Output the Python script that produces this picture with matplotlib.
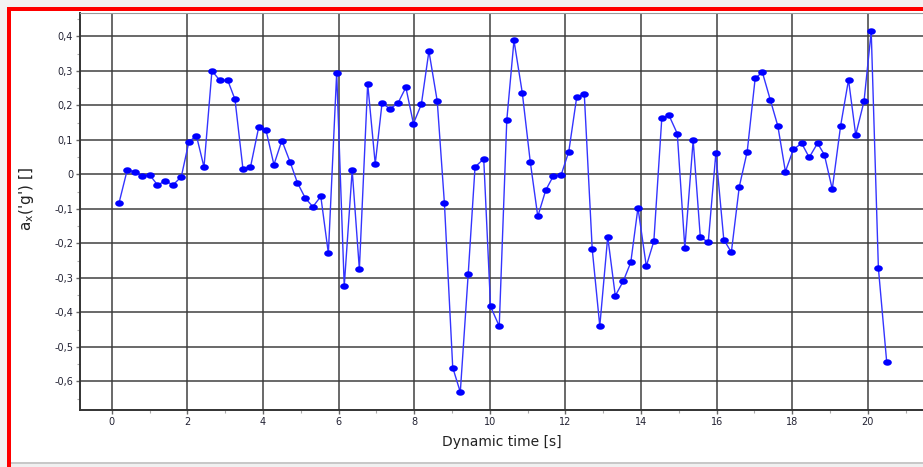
import matplotlib
matplotlib.use("Agg")
import matplotlib.pyplot as plt
import numpy as np
from matplotlib.patches import Rectangle
from matplotlib.path import Path
from matplotlib.ticker import MultipleLocator, FuncFormatter

# dynamic time [s]
t = [0.19, 0.41, 0.61, 0.80, 1.00, 1.21, 1.42, 1.62, 1.84, 2.04,
     2.24, 2.44, 2.65, 2.86, 3.07, 3.26, 3.47, 3.67, 3.89, 4.08,
     4.29, 4.50, 4.72, 4.91, 5.12, 5.32, 5.53, 5.73, 5.95, 6.15,
     6.36, 6.55, 6.77, 6.97, 7.15, 7.36, 7.57, 7.78, 7.98, 8.19,
     8.39, 8.61, 8.80, 9.02, 9.22, 9.43, 9.61, 9.84, 10.02, 10.25,
     10.45, 10.64, 10.86, 11.07, 11.27, 11.48, 11.68, 11.89, 12.09, 12.30,
     12.50, 12.71, 12.91, 13.12, 13.32, 13.53, 13.73, 13.92, 14.14, 14.34,
     14.55, 14.74, 14.96, 15.16, 15.38, 15.57, 15.78, 15.98, 16.19, 16.39,
     16.60, 16.81, 17.02, 17.21, 17.42, 17.62, 17.82, 18.03, 18.25, 18.45,
     18.67, 18.85, 19.06, 19.28, 19.49, 19.68, 19.90, 20.09, 20.28, 20.50]

# a_x ('g')
ax_g = [-0.084, 0.013, 0.007, -0.005, -0.001, -0.031, -0.019, -0.031, -0.007, 0.094,
        0.112, 0.021, 0.300, 0.272, 0.272, 0.217, 0.016, 0.021, 0.138, 0.128,
        0.028, 0.098, 0.035, -0.024, -0.069, -0.094, -0.064, -0.229, 0.294, -0.324,
        0.012, -0.275, 0.263, 0.030, 0.206, 0.190, 0.206, 0.252, 0.147, 0.203,
        0.357, 0.212, -0.084, -0.560, -0.631, -0.288, 0.021, 0.045, -0.383, -0.440,
        0.157, 0.388, 0.236, 0.037, -0.122, -0.046, -0.005, -0.001, 0.066, 0.224,
        0.232, -0.217, -0.440, -0.181, -0.352, -0.310, -0.255, -0.097, -0.266, -0.194,
        0.162, 0.171, 0.118, -0.214, 0.099, -0.183, -0.196, 0.061, -0.189, -0.226,
        -0.036, 0.066, 0.278, 0.296, 0.216, 0.140, 0.008, 0.072, 0.090, 0.049,
        0.090, 0.057, -0.043, 0.140, 0.274, 0.114, 0.212, 0.414, -0.272, -0.544]

W, H = 923, 467
fig = plt.figure(figsize=(W / 100, H / 100), dpi=100, facecolor="#f3f3f3")


def px_rect(x0, y0, x1, y1, color, z):
    # rectangle given in pixel coords (origin top-left)
    r = Rectangle((x0 / W, 1 - y1 / H), (x1 - x0) / W, (y1 - y0) / H,
                  transform=fig.transFigure, facecolor=color,
                  edgecolor="none", zorder=z)
    fig.add_artist(r)


# red frame and white panel
px_rect(7, 7, W, H, "#ff0000", -10)
px_rect(11, 11, W, 462, "white", -9)
px_rect(11, 462, W, 463.5, "#c8c8c8", -8)
px_rect(11, 463.5, W, H, "#f0f0f0", -8)

ax = fig.add_axes([80 / W, 1 - 410 / H, (W - 80) / W, (410 - 13) / H])
ax.set_facecolor("white")

# slightly flattened dot marker
ang = np.linspace(0, 2 * np.pi, 40)
ell = Path(np.column_stack([np.cos(ang), 0.75 * np.sin(ang)]), closed=True)

ax.plot(t, ax_g, color="#3434ff", lw=1.0, zorder=3)
ax.plot(t, ax_g, ls="none", marker=ell, ms=6.2, mew=0, color="#0000ff", zorder=4)

ax.set_xlim(-0.84, 21.46)
ax.set_ylim(-0.683, 0.4675)

ax.xaxis.set_major_locator(MultipleLocator(2))
ax.xaxis.set_minor_locator(MultipleLocator(1))
ax.yaxis.set_major_locator(MultipleLocator(0.1))
ax.yaxis.set_minor_locator(MultipleLocator(0.05))


def comma(v, pos):
    if abs(v) < 1e-9:
        return "0"
    return f"{v:.1f}".replace(".", ",")


ax.yaxis.set_major_formatter(FuncFormatter(comma))
ax.xaxis.set_major_formatter(FuncFormatter(lambda v, p: f"{v:.0f}"))

ax.grid(True, which="major", color="#3c3c3c", lw=1.2, alpha=0.9, zorder=1)
ax.set_axisbelow(True)

ax.tick_params(which="major", direction="out", length=3, width=1,
               color="#666666", labelsize=7, labelcolor="#222233", pad=2)
ax.tick_params(which="minor", direction="out", length=2.5, width=0.8,
               color="#aaaaaa")

for s in ["left", "bottom"]:
    ax.spines[s].set_color("#333333")
    ax.spines[s].set_linewidth(1.4)
ax.spines["top"].set_color("#999999")
ax.spines["top"].set_linewidth(0.8)
ax.spines["right"].set_visible(False)

ax.set_xlabel("Dynamic time [s]", fontsize=10, color="#222222", labelpad=6)
ax.set_ylabel(r"a$_\mathregular{x}$('g') []", fontsize=11, color="#222222")
ax.yaxis.set_label_coords(-0.052, 0.53)

fig.savefig("out.png", dpi=100, facecolor=fig.get_facecolor())
